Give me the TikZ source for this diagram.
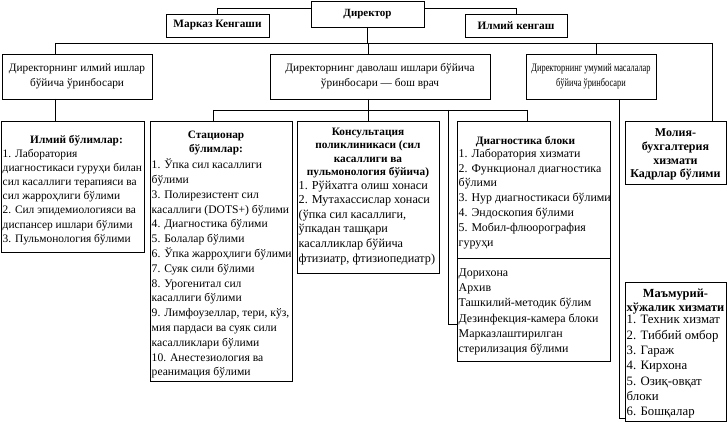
\documentclass[tikz,border=0pt]{standalone}
\usepackage{fontspec}
\setmainfont{Liberation Serif}
\newcommand\fs[2]{\fontsize{#1}{#2}\selectfont}
\tikzset{
  box/.style={draw, line width=0.8pt, inner sep=0pt, outer sep=0pt},
  ln/.style={line width=0.8pt},
  txt/.style={inner sep=0pt, align=left},
  ttl/.style={inner sep=0pt, align=center},
  dep/.style={font=\fs{11.3}{15}, inner sep=0pt, align=center},
}
\newcommand\mybox[5]{\node[box, anchor=north west, minimum width={(#4)-(#2)}, minimum height={(#5)-(#3)}] (#1) at (#2,#3) {};}
\begin{document}
\begin{tikzpicture}[x=1pt,y=-1pt]
\useasboundingbox (0,0) rectangle (728,422);
% top level
\mybox{dir}{311}{1}{424}{27}
\node[inner sep=0pt, font=\fs{11}{15}\bfseries] (dirT) at (dir.center) {Директор};
\mybox{mk}{166}{14}{269}{37}
\node[inner sep=0pt, font=\fs{11.3}{15}\bfseries] (mkT) at (mk.center) {Марказ Кенгаши};
\mybox{ik}{465}{14}{567}{37}
\node[inner sep=0pt, font=\fs{11.3}{15}\bfseries] (ikT) at (ik.center) {Илмий кенгаш};
% deputies
\mybox{da}{2}{54}{152}{99}
\node[dep] (daT) at (da.center) {Директорнинг илмий ишлар\\бўйича ўринбосари};
\mybox{db}{270}{54}{490}{99}
\node[dep] (dbT) at (db.center) {Директорнинг даволаш ишлари бўйича\\ўринбосари — бош врач};
\mybox{dc}{526}{54}{656}{99}
\node[dep, font=\fs{11.3}{15}\addfontfeature{FakeStretch=0.74}] (dcT) at (dc.center) {Директорнинг умумий масалалар\\бўйича ўринбосари};
% units
\mybox{ib}{1}{121}{144}{252}
\node[ttl, font=\fs{11.3}{14}\bfseries, anchor=north] (ibT) at ([xshift=4pt,yshift=-14pt]ib.north) {Илмий бўлимлар:};
\node[txt, font=\fs{11.4}{14.2}, anchor=north west] (ibL) at ([xshift=1.5pt,yshift=-27.8pt]ib.north west) {1. Лаборатория\\диагностикаси гуруҳи билан\\сил касаллиги терапияси ва\\сил жарроҳлиги бўлими\\2. Сил эпидемиологияси ва\\диспансер ишлари бўлими\\3. Пульмонология бўлими};
\mybox{st}{150}{121}{292}{381}
\node[ttl, font=\fs{11.3}{13.8}\bfseries, anchor=north] (stT) at ([xshift=-5pt,yshift=-9.8pt]st.north) {Стационар\\бўлимлар:};
\node[txt, font=\fs{11.6}{14.8}, anchor=north west] (stL) at ([xshift=1.5pt,yshift=-37.7pt]st.north west) {1. Ўпка сил касаллиги\\бўлими\\3. Полирезистент сил\\касаллиги (DOTS+) бўлими\\4. Диагностика бўлими\\5. Болалар бўлими\\6. Ўпка жарроҳлиги бўлими\\7. Суяк сили бўлими\\8. Урогенитал сил\\касаллиги бўлими\\9. Лимфоузеллар, тери, кўз,\\мия пардаси ва суяк сили\\касалликлари бўлими\\10. Анестезиология ва\\реанимация бўлими};
\mybox{ko}{297}{121}{439}{273}
\node[ttl, font=\fs{11.3}{13.4}\bfseries, anchor=north] (koT) at ([yshift=-6.8pt]ko.north) {Консультация\\поликлиникаси (сил\\касаллиги ва\\пульмонология бўйича)};
\node[txt, font=\fs{12.2}{14.6}, anchor=north west] (koL) at ([xshift=1.5pt,yshift=-59.5pt]ko.north west) {1. Рўйхатга олиш хонаси\\2. Мутахассислар хонаси\\(ўпка сил касаллиги,\\ўпкадан ташқари\\касалликлар бўйича\\фтизиатр, фтизиопедиатр)};
\mybox{dg}{457}{121}{610}{258}
\node[ttl, font=\fs{11.3}{14}\bfseries, anchor=north] (dgT) at ([xshift=-8pt,yshift=-15.5pt]dg.north) {Диагностика блоки};
\node[txt, font=\fs{11.9}{14.8}, anchor=north west] (dgL) at ([xshift=1.5pt,yshift=-27.6pt]dg.north west) {1. Лаборатория хизмати\\2. Функционал диагностика\\бўлими\\3. Нур диагностикаси бўлими\\4. Эндоскопия бўлими\\5. Мобил-флюорография\\гуруҳи};
\mybox{lo}{457}{258}{610}{361}
\node[txt, font=\fs{11.9}{15.2}, anchor=north west] (loL) at ([xshift=1.5pt,yshift=-10.6pt]lo.north west) {Дорихона\\Архив\\Ташкилий-методик бўлим\\Дезинфекция-камера блоки\\Марказлаштирилган\\стерилизация бўлими};
\mybox{mo}{625}{121}{726}{184}
\node[ttl, font=\fs{12}{13.7}\bfseries, anchor=north] (moT) at ([yshift=-7.8pt]mo.north) {Молия-\\бухгалтерия\\хизмати\\Кадрлар бўлими};
\mybox{ma}{625}{282}{726}{421}
\node[ttl, font=\fs{12.4}{14}\bfseries, anchor=north] (maT) at ([yshift=-6.4pt]ma.north) {Маъмурий-\\хўжалик хизмати};
\node[txt, font=\fs{12.8}{15.3}, anchor=north west] (maL) at ([xshift=1.5pt,yshift=-33.2pt]ma.north west) {1. Техник хизмат\\2. Тиббий омбор\\3. Гараж\\4. Кирхона\\5. Озиқ-овқат\\блоки\\6. Бошқалар};
% connectors
\draw[ln] (dir.west |- 0,8) -| (mk.north);
\draw[ln] (dir.east |- 0,8) -| (ik.north);
\coordinate (b1) at (55,43);
\coordinate (b2) at (712,43);
\draw[ln] (b1) -- (b2);
\draw[ln] (dir.south) -- (dir.south |- b1);
\draw[ln] (368,43) -- (368,0 |- db.north);
\draw[ln] (b1) -- (b1 |- da.north);
\draw[ln] (596,43) -- (596,0 |- dc.north);
\draw[ln] (b2) -- (b2 |- mo.north);
\draw[ln] (b1 |- da.south) -- (b1 |- ib.north);
\draw[ln] (ko.north |- db.south) -- (ko.north);
\coordinate (c1) at (213,110);
\coordinate (c2) at (527,110);
\coordinate (c3) at (448,110);
\coordinate (c4) at (448,324);
\draw[ln] (c1) -- (c2);
\draw[ln] (c1) -- (c1 |- st.north);
\draw[ln] (c2) -- (c2 |- dg.north);
\draw[ln] (c3) -- (c4) -- (c4 -| lo.west);
\coordinate (e1) at (619,418);
\draw[ln] (e1 |- dc.south) -- (e1) -- (e1 -| ma.west);
\end{tikzpicture}
\end{document}
